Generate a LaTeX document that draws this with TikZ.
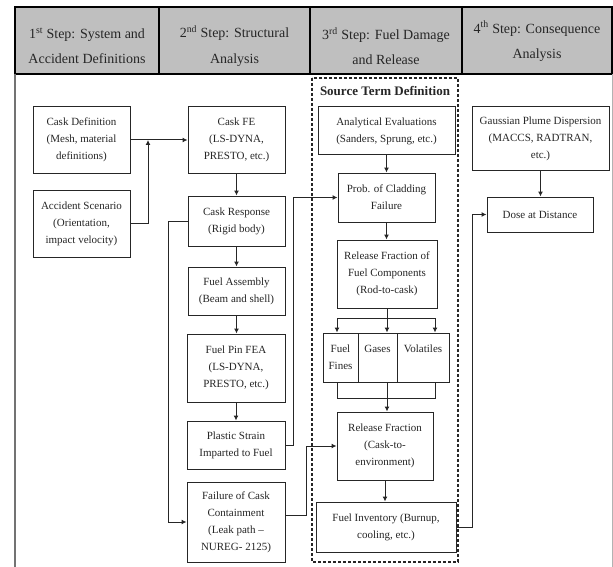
\documentclass[tikz,border=0pt]{standalone}
\usepackage{fontspec}
\setmainfont{Liberation Serif}
\usetikzlibrary{arrows.meta}
\begin{document}
\begin{tikzpicture}[x=1pt,y=-1pt,
  box/.style={draw=black!85, line width=1pt, align=center, inner sep=0pt, font=\fontsize{11}{17}\selectfont, text=black!85},
  conn/.style={draw=black!85, line width=1pt},
  arr/.style={conn, -{Latex[length=5pt,width=5pt]}},
  hdr/.style={align=center, font=\fontsize{14}{25}\selectfont, text=black!85, inner sep=0pt}
]
\useasboundingbox (0,0) rectangle (613,567);
\fill[white] (0,0) rectangle (613,567);
% header table
\draw[line width=1.5pt, fill=gray!50] (15,7) rectangle (612,74);
\draw[line width=1.5pt] (159,7) -- (159,74) (310,7) -- (310,74) (462,7) -- (462,74);
\draw[black!55, line width=1.2pt] (15,74) -- (15,567);
\draw[black!30, line width=0.8pt] (612,74) -- (612,567);
\node[hdr] (h1) at (87,46) {1\textsuperscript{st} Step: System and\\Accident Definitions};
\node[hdr] (h2) at (234.5,46) {2\textsuperscript{nd} Step: Structural\\Analysis};
\node[hdr] (h3) at (386,46) {3\textsuperscript{rd} Step: Fuel Damage\\and Release};
\node[hdr] (h4) at (537,41) {4\textsuperscript{th} Step: Consequence\\Analysis};
% source term box
\draw[black!85, line width=1.2pt, dash pattern=on 3pt off 2pt] (312,78) rectangle (458,562);
\node[font=\fontsize{13}{15}\selectfont\bfseries, text=black!85, inner sep=0pt] (stt) at (385,91) {Source Term Definition};
% column 1
\node[box, minimum width=97pt, minimum height=66pt] (cdef) at (81.5,140) {Cask Definition\\(Mesh, material\\definitions)};
\node[box, minimum width=97pt, minimum height=67pt] (acc) at (81.5,223.5) {Accident Scenario\\(Orientation,\\impact velocity)};
% column 2
\node[box, minimum width=97pt, minimum height=66pt] (cfe) at (236.5,140) {Cask FE\\(LS-DYNA,\\PRESTO, etc.)};
\node[box, minimum width=97pt, minimum height=50pt] (cresp) at (236.5,221) {Cask Response\\(Rigid body)};
\node[box, minimum width=97pt, minimum height=48pt] (fasm) at (236.5,291) {Fuel Assembly\\(Beam and shell)};
\node[box, minimum width=98pt, minimum height=68pt] (fpin) at (236,368) {Fuel Pin FEA\\(LS-DYNA,\\PRESTO, etc.)};
\node[box, minimum width=98pt, minimum height=48pt] (plas) at (236,445) {Plastic Strain\\Imparted to Fuel};
\node[box, minimum width=98pt, minimum height=80pt] (fail) at (236,522) {Failure of Cask\\Containment\\(Leak path --\\NUREG- 2125)};
% column 3
\node[box, minimum width=137pt, minimum height=48pt] (anal) at (386.5,131) {Analytical Evaluations\\(Sanders, Sprung, etc.)};
\node[box, minimum width=97pt, minimum height=49pt] (prob) at (386.5,197.5) {Prob. of Cladding\\Failure};
\node[box, minimum width=100pt, minimum height=68pt] (relf) at (387,274) {Release Fraction of\\Fuel Components\\(Rod-to-cask)};
\node[box, minimum width=35pt, minimum height=49pt] (fines) at (340.5,357.5) {Fuel\\Fines};
\node[box, minimum width=39pt, minimum height=49pt] (gases) at (377.5,357.5) {Gases\\\mbox{}};
\node[box, minimum width=52pt, minimum height=49pt] (vol) at (423,357.5) {Volatiles\\\mbox{}};
\node[box, minimum width=96pt, minimum height=68pt] (rele) at (385,446) {Release Fraction\\(Cask-to-\\environment)};
\node[box, minimum width=140pt, minimum height=50pt] (finv) at (386,527) {Fuel Inventory (Burnup,\\cooling, etc.)};
% column 4
\node[box, minimum width=137pt, minimum height=63pt] (gauss) at (540.5,138.5) {Gaussian Plume Dispersion\\(MACCS, RADTRAN,\\etc.)};
\node[box, minimum width=106pt, minimum height=35pt] (dose) at (540,214.5) {Dose at Distance};
% connectors
\coordinate (j1) at (148,140);
\draw[arr] (cdef.east) -- (cfe.west);
\draw[arr] (acc.east) -| (j1);
\draw[arr] (cfe.south) -- (cresp.north);
\draw[arr] (cresp.south) -- (cresp.south |- fasm.north);
\draw[arr] (fasm.south) -- (fasm.south |- fpin.north);
\draw[arr] (fpin.south) -- (plas.north);
\coordinate (k1) at (168,221);
\draw[arr] (cresp.west) -- (k1) |- (fail.west);
\coordinate (k2) at (293,445);
\draw[arr] (plas.east) -- (k2) |- (prob.west);
\coordinate (k3) at (306,515);
\draw[arr] ([yshift=7pt]fail.east) -- (k3) |- (rele.west);
\draw[arr] (anal.south) -- (prob.north);
\draw[arr] (prob.south) -- (prob.south |- relf.north);
\coordinate (sb) at (387,318);
\coordinate (sl) at (337,318);
\coordinate (sr) at (435,318);
\draw[conn] (relf.south) -- (sb);
\draw[conn] (sl) -- (sr);
\draw[arr] (sl) -- (sl |- fines.north);
\draw[arr] (sb) -- (sb |- gases.north);
\draw[arr] (sr) -- (sr |- vol.north);
\coordinate (ml) at (337,398);
\coordinate (mr) at (435,398);
\draw[conn] (ml |- fines.south) -- (ml) -- (mr) -- (mr |- vol.south);
\draw[arr] (sb |- gases.south) -- (sb |- rele.north);
\draw[arr] (rele.south) -- (rele.south |- finv.north);
\coordinate (k4) at (472,527);
\draw[arr] (finv.east) -- (k4) |- (dose.west);
\draw[arr] (gauss.south) -- (gauss.south |- dose.north);
\end{tikzpicture}
\end{document}
